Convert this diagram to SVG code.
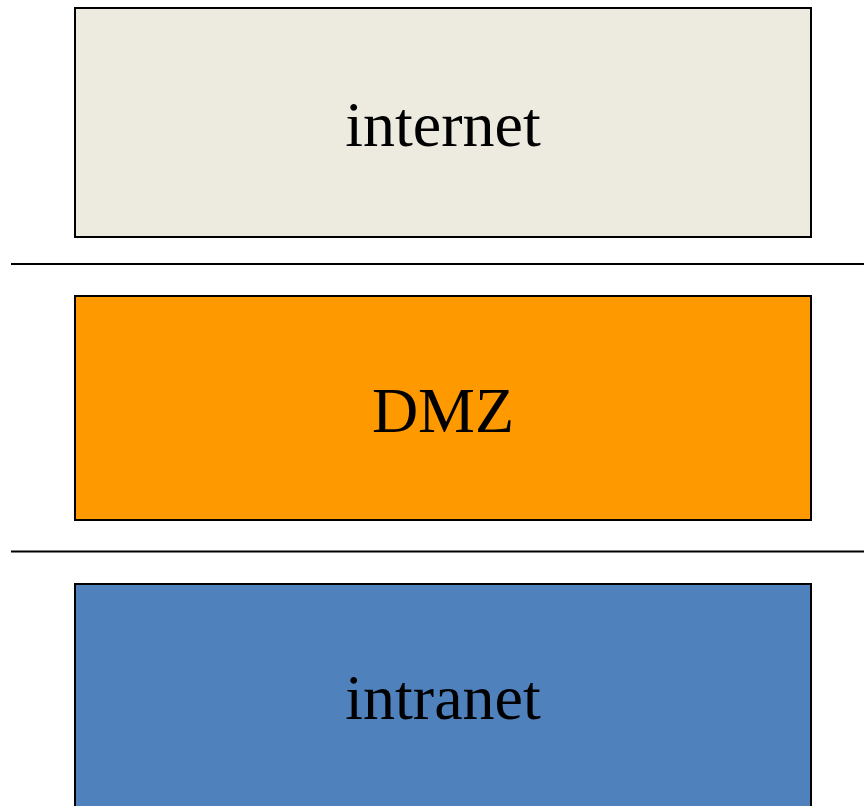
<svg xmlns="http://www.w3.org/2000/svg" width="864" height="806" viewBox="0 0 864 806">
  <style>
    .zone { stroke: #000; stroke-width: 2; }
    .label { font-family: "Liberation Serif", "Times New Roman", serif; font-size: 64px; fill: #000; text-anchor: middle; }
    .divider { stroke: #000; stroke-width: 2; fill: none; }
  </style>
  <rect width="864" height="806" fill="#fff"/>
  <g id="internet">
    <rect class="zone" x="75" y="8" width="736" height="229" fill="#EDEBE0"/>
    <text class="label" x="443" y="146">internet</text>
  </g>
  <g id="dmz">
    <rect class="zone" x="75" y="296" width="736" height="224" fill="#FF9900"/>
    <text class="label" x="443" y="432">DMZ</text>
  </g>
  <g id="intranet">
    <rect class="zone" x="75" y="584" width="736" height="240" fill="#4F81BD"/>
    <text class="label" x="443" y="719">intranet</text>
  </g>
  <g id="connectors">
    <line class="divider" x1="11" y1="264" x2="864" y2="264"/>
    <line class="divider" x1="11" y1="551.5" x2="864" y2="551.5"/>
  </g>
</svg>
